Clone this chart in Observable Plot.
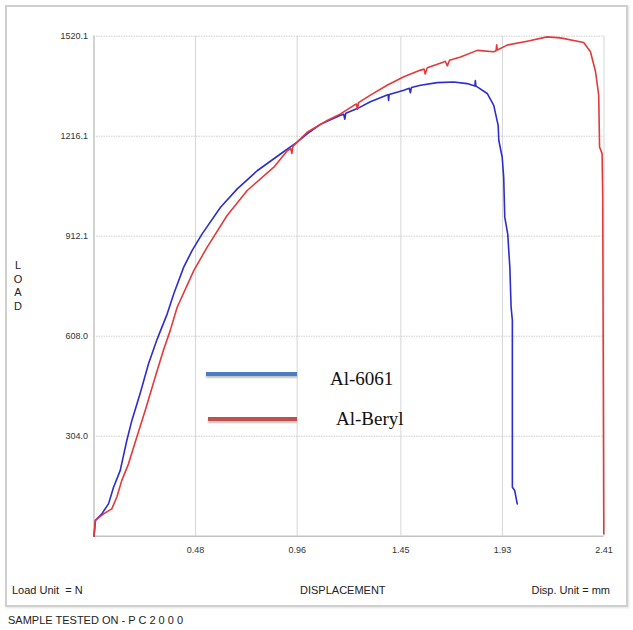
<!DOCTYPE html>
<html>
<head>
<meta charset="utf-8">
<script src="https://cdn.jsdelivr.net/npm/d3@7"></script>
<script src="https://cdn.jsdelivr.net/npm/@observablehq/plot@0.6"></script>
<style>
  html, body { margin: 0; padding: 0; background: #fff; }
  #wrap { position: relative; width: 633px; height: 630px; overflow: hidden; font-family: "Liberation Sans", Arial, sans-serif; }
  #frame { position: absolute; left: 5px; top: 5px; width: 619px; height: 598px; border: 2px solid #cfcfcf; box-shadow: 1px 1px 2px #e2e2e2; pointer-events: none; }
  #chart { position: absolute; left: 0; top: 0; }
  .lbl { position: absolute; font-size: 11px; color: #222; white-space: nowrap; line-height: 1; }
  .leg { position: absolute; height: 4px; box-shadow: 0 2px 2px rgba(0,0,0,0.25); }
  .legtxt { position: absolute; font-family: "Liberation Serif", "Times New Roman", serif; font-size: 19px; color: #111; white-space: nowrap; line-height: 1; }
</style>
</head>
<body>
<div id="wrap">
  <div id="chart"></div>
  <div id="frame"></div>
  <div class="lbl" style="left:13px; top:259px; width:10px; text-align:center; line-height:13.5px;">L<br>O<br>A<br>D</div>
  <div class="lbl" style="left:12px; top:585px;">Load Unit&nbsp; = N</div>
  <div class="lbl" style="left:300px; top:585px;">DISPLACEMENT</div>
  <div class="lbl" style="right:23px; top:585px;">Disp. Unit = mm</div>
  <div class="lbl" style="left:8px; top:615px;">SAMPLE TESTED ON - P C 2 0 0 0</div>
  <div class="leg" style="left:206px; top:372px; width:91px; background:#4a7cc4;"></div>
  <div class="leg" style="left:208px; top:417px; width:89px; background:#c0504d;"></div>
  <div class="legtxt" id="lab0" style="left:330px; top:369px;"></div>
  <div class="legtxt" id="lab1" style="left:336px; top:409px;"></div>
</div>
<script>
const seriesNames = ["Al-6061", "Al-Beryl"];
const xTicks = [0.48, 0.96, 1.45, 1.93, 2.41];
const yTicks = [304.0, 608.0, 912.1, 1216.1, 1520.1];

const blueX = [0, 0.007, 0.037, 0.069, 0.092, 0.124, 0.155, 0.179, 0.218, 0.258, 0.299, 0.346, 0.377, 0.424, 0.464, 0.511, 0.598, 0.677, 0.771, 0.881, 0.960, 1.007, 1.070, 1.165, 1.18, 1.185, 1.19, 1.244, 1.306, 1.385, 1.39, 1.392, 1.395, 1.464, 1.49, 1.495, 1.50, 1.543, 1.622, 1.700, 1.763, 1.80, 1.802, 1.805, 1.811, 1.858, 1.889, 1.910, 1.913, 1.929, 1.936, 1.941, 1.955, 1.965, 1.971, 1.977, 1.977, 1.988, 2.000];
const blueY = [0, 48, 68, 99, 148, 200, 291, 352, 434, 525, 600, 676, 737, 818, 869, 919, 1000, 1056, 1111, 1162, 1198, 1223, 1252, 1280, 1283, 1268, 1286, 1300, 1321, 1341, 1342, 1325, 1343, 1356, 1362, 1348, 1364, 1371, 1379, 1381, 1376, 1369, 1385, 1368, 1366, 1346, 1310, 1248, 1203, 1152, 1091, 970, 919, 818, 696, 656, 149, 139, 98];

const redX = [0, 0.006, 0.045, 0.084, 0.108, 0.131, 0.163, 0.202, 0.242, 0.289, 0.328, 0.360, 0.393, 0.472, 0.535, 0.629, 0.724, 0.850, 0.913, 0.93, 0.935, 0.94, 0.960, 1.007, 1.102, 1.165, 1.228, 1.24, 1.245, 1.25, 1.306, 1.385, 1.464, 1.543, 1.56, 1.565, 1.575, 1.653, 1.66, 1.67, 1.68, 1.732, 1.811, 1.889, 1.90, 1.903, 1.906, 1.952, 2.047, 2.141, 2.204, 2.314, 2.346, 2.370, 2.385, 2.389, 2.401, 2.404, 2.409];
const redY = [0, 48, 68, 83, 119, 169, 220, 301, 382, 483, 565, 625, 696, 808, 879, 975, 1051, 1122, 1172, 1178, 1164, 1185, 1198, 1228, 1264, 1284, 1310, 1314, 1298, 1318, 1341, 1371, 1397, 1417, 1420, 1405, 1424, 1442, 1444, 1430, 1447, 1457, 1477, 1473, 1476, 1494, 1478, 1493, 1505, 1518, 1515, 1501, 1473, 1412, 1341, 1183, 1163, 1031, 7];

const blue = blueX.map((x, i) => ({x, y: blueY[i]}));
const red = redX.map((x, i) => ({x, y: redY[i]}));

document.getElementById("lab0").textContent = seriesNames[0];
document.getElementById("lab1").textContent = seriesNames[1];

const chart = Plot.plot({
  width: 633,
  height: 630,
  marginLeft: 93.5,
  marginRight: 29.5,
  marginTop: 35.7,
  marginBottom: 94.3,
  style: {background: "transparent", fontFamily: "Liberation Sans, Arial, sans-serif"},
  x: {domain: [0, 2.41], label: null},
  y: {domain: [0, 1520.1], label: null},
  marks: [
    Plot.gridX(xTicks, {stroke: "#d6d6d6", strokeOpacity: 1, strokeWidth: 1}),
    Plot.gridY(yTicks, {stroke: "#cfcfcf", strokeOpacity: 1, strokeWidth: 1, strokeDasharray: "1.5,1"}),
    Plot.ruleX([0], {stroke: "#c4c4c4", strokeWidth: 1.5}),
    Plot.ruleY([0], {stroke: "#c4c4c4", strokeWidth: 1.5}),
    Plot.axisX(xTicks, {tickSize: 0, tickPadding: 10, fontSize: 9, fill: "#333", tickFormat: d => d.toFixed(2), label: null}),
    Plot.axisY(yTicks, {tickSize: 0, tickPadding: 6, fontSize: 9, fill: "#333", tickFormat: d => d.toFixed(1), label: null}),
    Plot.line(blue, {x: "x", y: "y", stroke: "#2d2dcf", strokeWidth: 1.6}),
    Plot.line(red, {x: "x", y: "y", stroke: "#e23a3a", strokeWidth: 1.6})
  ]
});
document.getElementById("chart").appendChild(chart);
</script>
</body>
</html>
